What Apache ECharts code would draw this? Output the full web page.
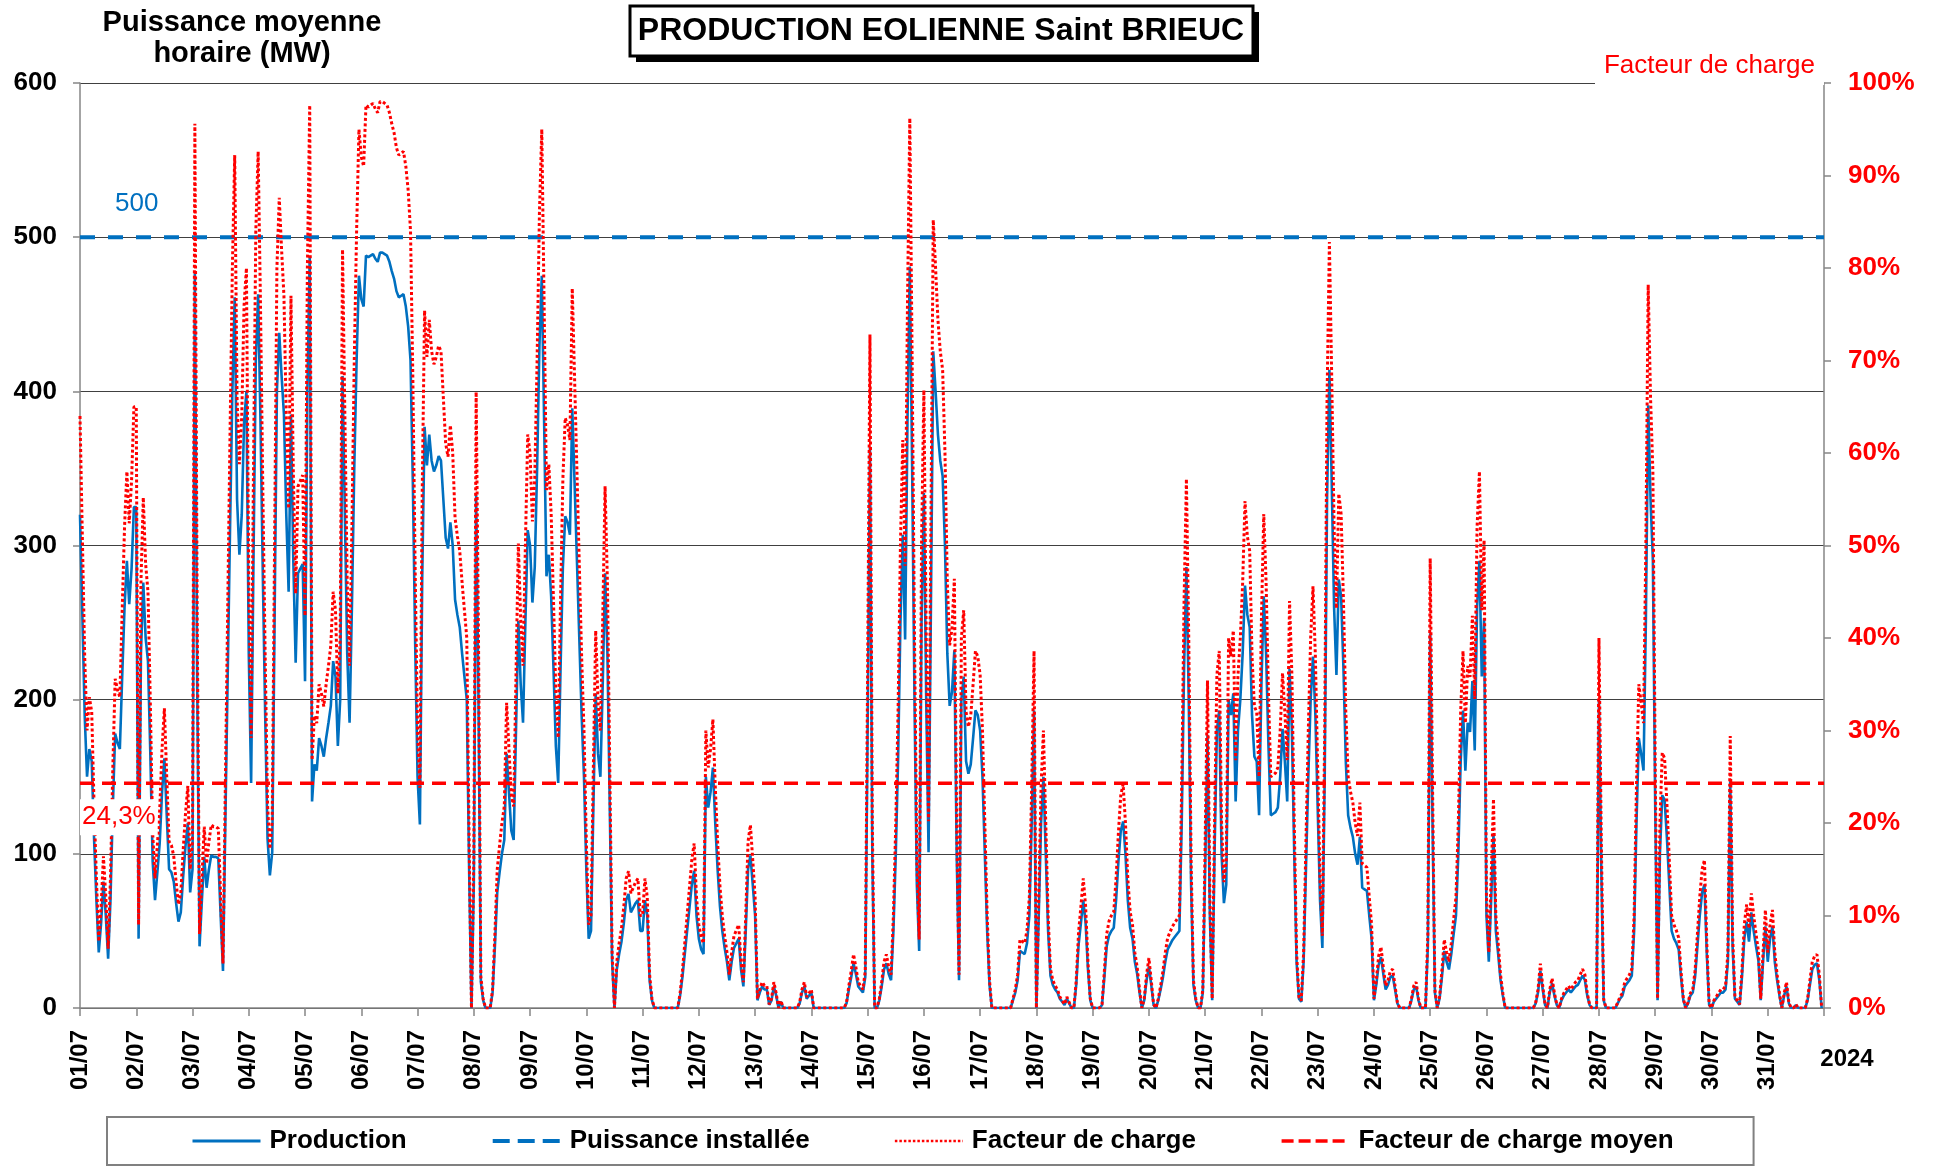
<!DOCTYPE html>
<html>
<head>
<meta charset="utf-8">
<title>Production éolienne Saint-Brieuc – juillet 2024</title>
<script src="https://cdn.jsdelivr.net/npm/echarts@6/dist/echarts.min.js"></script>
<style>
  html, body { margin: 0; padding: 0; background: #ffffff; }
  #chart { width: 1936px; height: 1168px; }
</style>
</head>
<body>
<div id="chart"></div>
<script>
// Hourly average power of the Saint-Brieuc wind farm (MW), July 2024 — one array per day, hours 0..23
const day01 = [320,255,190,150,168,160,110,70,36,55,82,60,32,70,130,178,172,168,215,260,290,262,285,325];
const day02 = [325,45,230,276,240,225,165,95,70,88,107,140,162,125,90,88,82,68,56,62,85,105,120,75];
const day03 = [90,478,210,40,70,98,78,90,99,98,98,97,60,24,120,215,310,400,461,330,294,320,380,400];
const day04 = [230,146,290,420,463,380,280,190,110,86,101,250,400,438,410,385,320,270,385,290,224,282,285,288];
const day05 = [212,400,488,134,158,154,175,170,163,175,185,196,225,215,170,200,410,320,230,185,260,350,420,475];
const day06 = [460,455,488,487,488,489,486,484,490,490,489,488,484,478,473,465,461,462,463,455,442,420,340,235];
const day07 = [150,119,280,377,352,372,355,348,352,358,355,330,305,298,315,300,265,255,247,230,215,200,90,0];
const day08 = [80,333,200,17,5,0,0,0,10,40,75,88,100,109,165,140,115,109,180,251,210,185,250,310];
const day09 = [300,263,286,350,430,475,380,280,294,267,220,170,146,220,286,319,315,307,389,340,290,240,190,150];
const day10 = [90,45,50,130,204,165,150,210,282,230,130,30,0,25,35,43,55,70,74,62,65,68,70,50];
const day11 = [50,70,60,18,5,0,0,0,0,0,0,0,0,0,0,0,8,20,35,50,65,80,89,60];
const day12 = [45,38,35,150,130,140,156,120,90,66,50,39,30,18,30,39,42,45,25,14,50,90,99,80];
const day13 = [60,5,10,14,12,12,2,5,14,8,0,4,0,0,0,0,0,0,0,3,10,14,6,8];
const day14 = [10,0,0,0,0,0,0,0,0,0,0,0,0,0,0,3,12,20,29,22,14,12,10,20];
const day15 = [180,364,100,0,0,5,14,25,29,22,18,50,99,161,250,307,239,380,481,350,200,80,37,250];
const day16 = [334,200,101,260,426,400,372,355,345,300,230,196,205,232,100,18,200,215,160,152,158,175,193,190];
const day17 = [180,150,100,50,15,0,0,0,0,0,0,0,0,0,5,10,18,37,36,35,42,60,120,193];
const day18 = [0,60,120,150,100,50,21,15,12,10,6,4,2,6,3,0,0,15,41,55,70,55,25,5];
const day19 = [0,0,0,0,2,20,40,47,50,52,70,95,115,121,100,70,52,45,30,22,10,0,5,18];
const day20 = [27,15,2,0,5,12,20,30,38,41,44,46,48,50,120,220,286,200,80,15,5,0,0,10];
const day21 = [90,177,60,5,100,180,193,100,68,80,200,190,204,134,180,200,230,274,255,247,190,163,160,125];
const day22 = [210,267,230,170,125,126,127,130,150,181,160,134,220,180,100,30,6,4,30,90,150,200,228,191];
const day23 = [130,70,39,150,330,414,340,260,216,278,267,220,160,125,117,111,100,93,111,78,77,76,60,45];
const day24 = [5,15,28,33,22,12,15,20,21,12,3,0,0,0,0,0,5,12,14,5,0,0,0,40];
const day25 = [243,120,10,0,6,20,37,30,25,35,48,60,100,160,193,154,185,179,212,167,260,290,215,253];
const day26 = [60,30,70,113,50,35,18,8,0,0,0,0,0,0,0,0,0,0,0,0,0,3,10,24];
const day27 = [12,2,0,10,16,8,2,0,5,8,10,12,10,12,14,15,18,21,18,8,2,0,0,0];
const day28 = [200,90,5,0,0,0,0,0,3,6,8,14,16,18,21,50,120,175,165,154,250,391,330,290];
const day29 = [130,5,100,138,135,110,80,50,45,42,38,20,5,0,3,8,10,20,40,60,75,80,35,2];
const day30 = [0,4,6,8,10,10,12,30,147,40,6,4,2,20,45,56,43,62,50,40,31,5,30,53];
const day31 = [30,45,53,30,18,8,0,8,14,3,0,0,2,0,0,0,0,5,15,25,28,29,18,0];

// Day tick labels along the time axis
const dayLabels = ['01/07','02/07','03/07','04/07','05/07','06/07','07/07','08/07','09/07','10/07',
  '11/07','12/07','13/07','14/07','15/07','16/07','17/07','18/07','19/07','20/07',
  '21/07','22/07','23/07','24/07','25/07','26/07','27/07','28/07','29/07','30/07','31/07'];
const yearLabel = '2024';

const INSTALLED_MW = 500;      // installed capacity
const MEAN_FACTOR = 24.3;      // monthly mean load factor, %
const HOURS_PER_DAY = 24;

const production = [].concat(day01, day02, day03, day04, day05, day06, day07, day08, day09, day10,
  day11, day12, day13, day14, day15, day16, day17, day18, day19, day20,
  day21, day22, day23, day24, day25, day26, day27, day28, day29, day30, day31);
const totalHours = dayLabels.length * HOURS_PER_DAY;

// [hour, value] pairs for the value-type time axis
const productionData = production.map((v, h) => [h, v]);
const loadFactorData = production.map((v, h) => [h, v / INSTALLED_MW * 100]);
const installedData = [[0, INSTALLED_MW], [totalHours, INSTALLED_MW]];
const meanData = [[0, MEAN_FACTOR], [totalHours, MEAN_FACTOR]];

const FONT = '"Liberation Sans", Arial, Helvetica, sans-serif';
const BLUE = '#0070C0';
const RED = '#FF0000';
const AXIS_GREY = '#868686';
const NO_SYMBOL = { color: 'rgba(0,0,0,0)', borderWidth: 0, opacity: 0 };

const chart = echarts.init(document.getElementById('chart'), null, { renderer: 'canvas' });

const option = {
  animation: false,
  backgroundColor: '#ffffff',
  grid: { left: 80, right: 112, top: 83, bottom: 160, containLabel: false, outerBoundsMode: 'none' },
  legend: {
    left: 107, top: 1117,
    padding: [11, 80, 11, 84],
    itemWidth: 68, itemHeight: 14, itemGap: 84,
    borderColor: '#808080', borderWidth: 2, backgroundColor: '#ffffff',
    selectedMode: false,
    itemStyle: NO_SYMBOL,
    textStyle: { fontFamily: FONT, fontWeight: 'bold', fontSize: 26, color: '#000', padding: [0, 0, 0, 4] },
    data: [
      { name: 'Production', itemStyle: NO_SYMBOL, lineStyle: { color: BLUE, width: 3, type: 'solid' } },
      { name: 'Puissance installée', itemStyle: NO_SYMBOL, lineStyle: { color: BLUE, width: 4, type: [17, 8] } },
      { name: 'Facteur de charge', itemStyle: NO_SYMBOL, lineStyle: { color: RED, width: 2.5, type: [2.5, 2] } },
      { name: 'Facteur de charge moyen', itemStyle: NO_SYMBOL, lineStyle: { color: RED, width: 3.5, type: [12, 5] } }
    ]
  },
  xAxis: {
    type: 'value', min: 0, max: totalHours, interval: HOURS_PER_DAY,
    axisLine: { show: true, lineStyle: { color: AXIS_GREY, width: 1.5 } },
    axisTick: { show: true, length: 8, lineStyle: { color: AXIS_GREY, width: 1.5 } },
    splitLine: { show: false },
    axisLabel: {
      rotate: 90, margin: 22,
      fontFamily: FONT, fontWeight: 'bold', fontSize: 24, color: '#000',
      formatter: v => (v < totalHours ? dayLabels[Math.round(v / HOURS_PER_DAY)] : '')
    }
  },
  yAxis: [
    {
      type: 'value', min: 0, max: 600, interval: 100, position: 'left',
      axisLine: { show: true, lineStyle: { color: AXIS_GREY, width: 1.5 } },
      axisTick: { show: true, length: 7, lineStyle: { color: AXIS_GREY, width: 1.5 } },
      splitLine: { show: true, lineStyle: { color: '#404040', width: 1 } },
      axisLabel: { margin: 23, fontFamily: FONT, fontWeight: 'bold', fontSize: 26, color: '#000' }
    },
    {
      type: 'value', min: 0, max: 100, interval: 10, position: 'right',
      axisLine: { show: true, lineStyle: { color: AXIS_GREY, width: 1.5 } },
      axisTick: { show: true, length: 7, lineStyle: { color: AXIS_GREY, width: 1.5 } },
      splitLine: { show: false },
      axisLabel: { margin: 24, fontFamily: FONT, fontWeight: 'bold', fontSize: 26, color: RED,
        formatter: '{value}%' }
    }
  ],
  series: [
    {
      name: 'Production', type: 'line', yAxisIndex: 0, data: productionData,
      symbol: 'none', showSymbol: false, silent: true, clip: true,
      lineStyle: { color: BLUE, width: 2.6 }, itemStyle: { color: BLUE }
    },
    {
      name: 'Puissance installée', type: 'line', yAxisIndex: 0, data: installedData,
      symbol: 'none', showSymbol: false, silent: true,
      lineStyle: { color: BLUE, width: 4, type: [15, 13] }, itemStyle: { color: BLUE }
    },
    {
      name: 'Facteur de charge', type: 'line', yAxisIndex: 1, data: loadFactorData,
      symbol: 'none', showSymbol: false, silent: true, clip: true,
      lineStyle: { color: RED, width: 3, type: [3, 2.5] }, itemStyle: { color: RED }
    },
    {
      name: 'Facteur de charge moyen', type: 'line', yAxisIndex: 1, data: meanData,
      symbol: 'none', showSymbol: false, silent: true,
      lineStyle: { color: RED, width: 3.5, type: [14, 8] }, itemStyle: { color: RED }
    }
  ]
};

chart.setOption(option);

// Annotation positions follow the axes
const x0 = chart.convertToPixel({ xAxisIndex: 0 }, 0);
const yInstalled = chart.convertToPixel({ yAxisIndex: 0 }, INSTALLED_MW);
const yMean = chart.convertToPixel({ yAxisIndex: 1 }, MEAN_FACTOR);
const meanText = MEAN_FACTOR.toFixed(1).replace('.', ',') + '%';

chart.setOption({
  graphic: [
    // title box with offset shadow
    { type: 'rect', z: 100, shape: { x: 636, y: 12, width: 623, height: 50 }, style: { fill: '#000' } },
    { type: 'rect', z: 101, shape: { x: 630, y: 6, width: 623, height: 50 },
      style: { fill: '#fff', stroke: '#000', lineWidth: 3 } },
    { type: 'text', z: 102, x: 941, y: 31,
      style: { text: 'PRODUCTION EOLIENNE Saint BRIEUC', font: 'bold 32px ' + FONT, fill: '#000',
        align: 'center', verticalAlign: 'middle' } },
    // left axis title
    { type: 'text', z: 102, x: 242, y: 38,
      style: { text: 'Puissance moyenne\nhoraire (MW)', font: 'bold 29px ' + FONT, fill: '#000',
        align: 'center', verticalAlign: 'middle', lineHeight: 31 } },
    // right axis title, masking the top grid line
    { type: 'text', z: 102, x: 1824, y: 66,
      style: { text: 'Facteur de charge', font: '26px ' + FONT, fill: RED,
        align: 'right', verticalAlign: 'middle', backgroundColor: '#fff', padding: [4, 9, 8, 9] } },
    // year under the time axis
    { type: 'text', z: 102, x: 1847, y: 1059,
      style: { text: yearLabel, font: 'bold 24px ' + FONT, fill: '#000',
        align: 'center', verticalAlign: 'middle' } },
    // installed capacity value
    { type: 'text', z: 102, x: x0 + 35, y: yInstalled - 33,
      style: { text: String(INSTALLED_MW), font: '26px ' + FONT, fill: BLUE,
        align: 'left', verticalAlign: 'middle' } },
    // mean load factor value
    { type: 'text', z: 102, x: x0, y: yMean + 34,
      style: { text: meanText, font: '26px ' + FONT, fill: RED,
        align: 'left', verticalAlign: 'middle', backgroundColor: '#fff', padding: [5, 2, 5, 2] } }
  ]
});
</script>
</body>
</html>
